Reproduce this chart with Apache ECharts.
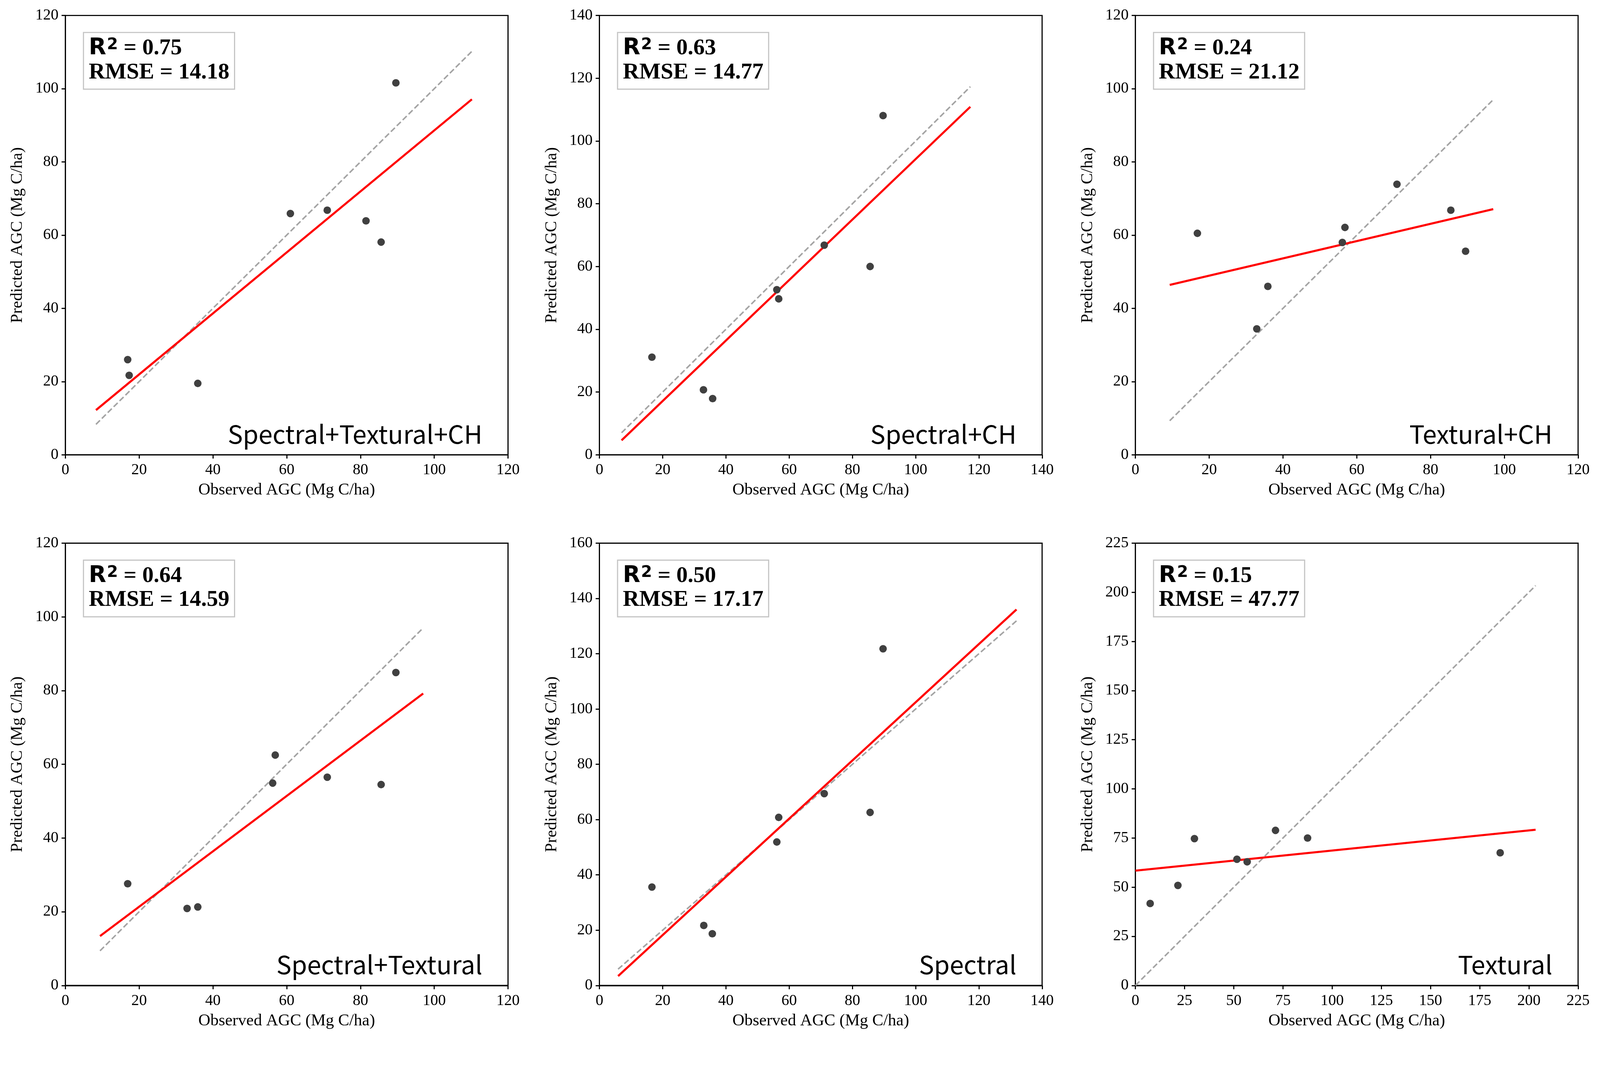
<!DOCTYPE html>
<html>
<head>
<meta charset="utf-8">
<script src="https://cdn.jsdelivr.net/npm/echarts@6/dist/echarts.min.js"></script>
<style>
html,body{margin:0;padding:0;background:#ffffff;overflow:hidden;}
#chart{width:100vw;height:100vh;}
</style>
</head>
<body>
<div id="chart"></div>
<script>
// ---------------- data ----------------
const panelNames = ['Spectral+Textural+CH', 'Spectral+CH', 'Textural+CH', 'Spectral+Textural', 'Spectral', 'Textural'];
const r2Values = ['0.75', '0.63', '0.24', '0.64', '0.50', '0.15'];
const rmseValues = ['14.18', '14.77', '21.12', '14.59', '17.17', '47.77'];
const xMax = [120, 140, 120, 120, 140, 225];
const yMax = [120, 140, 120, 120, 160, 225];
const tickStep = [20, 20, 20, 20, 20, 25];

const obsSTC  = [16.9, 17.3, 35.9, 61.0, 71.0, 81.5, 85.6, 89.6];
const predSTC = [26.0, 21.7, 19.5, 65.9, 66.8, 63.9, 58.1, 101.6];
const obsSC   = [16.6, 32.9, 35.8, 56.1, 56.7, 71.1, 85.6, 89.7];
const predSC  = [31.1, 20.7, 17.9, 52.6, 49.7, 66.8, 60.0, 108.1];
const obsTC   = [16.8, 32.9, 35.9, 56.1, 56.8, 70.9, 85.5, 89.5];
const predTC  = [60.5, 34.4, 46.0, 58.0, 62.1, 73.9, 66.8, 55.6];
const obsST   = [16.9, 33.0, 35.9, 56.2, 56.9, 71.0, 85.6, 89.6];
const predST  = [27.6, 20.9, 21.3, 54.9, 62.5, 56.5, 54.5, 84.9];
const obsS    = [16.6, 33.0, 35.7, 56.1, 56.7, 71.1, 85.6, 89.7];
const predS   = [35.6, 21.7, 18.7, 51.9, 60.8, 69.4, 62.6, 121.8];
const obsT    = [7.5, 21.6, 30.0, 51.6, 56.8, 71.2, 87.5, 185.4];
const predT   = [41.7, 50.9, 74.7, 64.2, 62.9, 78.9, 75.0, 67.5];

// x extent of the fitted line and of the 1:1 line, and fitted line end values
const lineRangeSTC = [8.3, 110.2]; const fitSTC = [12.2, 97.1];
const lineRangeSC  = [7.0, 117.3]; const fitSC  = [4.6, 110.9];
const lineRangeTC  = [9.3, 97.0];  const fitTC  = [46.4, 67.1];
const lineRangeST  = [9.4, 97.0];  const fitST  = [13.4, 79.2];
const lineRangeS   = [5.9, 131.9]; const fitS   = [3.4, 136.0];
const lineRangeT   = [0.0, 203.4]; const fitT   = [58.4, 79.2];

const obsList = [obsSTC, obsSC, obsTC, obsST, obsS, obsT];
const predList = [predSTC, predSC, predTC, predST, predS, predT];
const rangeList = [lineRangeSTC, lineRangeSC, lineRangeTC, lineRangeST, lineRangeS, lineRangeT];
const fitList = [fitSTC, fitSC, fitTC, fitST, fitS, fitT];

// ---------------- layout (designed for 4236 x 2752, scaled to the viewport) ----------------
const el = document.getElementById('chart');
const S = Math.min(el.clientWidth / 4236, el.clientHeight / 2752);
const p = v => v * S;

const colLeft = [173, 1587, 3006];
const plotW = 1172;
const rowTop = [41, 1438];
const rowH = [1163, 1171];
const serif = 'Liberation Serif';

const grids = [], xAxes = [], yAxes = [], series = [], graphics = [];

for (let i = 0; i < 6; i++) {
  const col = i % 3, row = Math.floor(i / 3);
  const left = colLeft[col], top = rowTop[row], h = rowH[row];
  grids.push({left: p(left), top: p(top), width: p(plotW), height: p(h), show: true,
    borderColor: '#000', borderWidth: p(3), backgroundColor: 'transparent'});
  const axisCommon = {
    type: 'value', gridIndex: i, min: 0, nameLocation: 'middle',
    nameTextStyle: {fontFamily: serif, fontSize: p(44), color: '#000'},
    axisLine: {show: true, onZero: false, lineStyle: {color: '#000', width: p(3)}},
    axisTick: {show: true, inside: false, length: p(10), lineStyle: {color: '#000', width: p(3)}},
    axisLabel: {fontFamily: serif, fontSize: p(41), color: '#000'},
    splitLine: {show: false}
  };
  xAxes.push(Object.assign({}, axisCommon, {
    max: xMax[i], interval: tickStep[i], name: 'Observed AGC (Mg C/ha)', nameGap: p(72),
    axisLabel: Object.assign({}, axisCommon.axisLabel, {margin: p(20)})
  }));
  yAxes.push(Object.assign({}, axisCommon, {
    max: yMax[i], interval: tickStep[i], name: 'Predicted AGC (Mg C/ha)', nameGap: p(104), nameRotate: 90,
    axisLabel: Object.assign({}, axisCommon.axisLabel, {margin: p(18)})
  }));

  const r = rangeList[i], f = fitList[i];
  series.push({
    type: 'line', xAxisIndex: i, yAxisIndex: i, showSymbol: false, silent: true, z: 2,
    data: [[r[0], r[0]], [r[1], r[1]]],
    lineStyle: {color: '#a4a4a4', width: p(4), type: [p(15), p(7)]}
  });
  series.push({
    type: 'line', xAxisIndex: i, yAxisIndex: i, showSymbol: false, silent: true, z: 3,
    data: [[r[0], f[0]], [r[1], f[1]]],
    lineStyle: {color: '#ff0000', width: p(5.5)}
  });
  series.push({
    type: 'scatter', xAxisIndex: i, yAxisIndex: i, symbolSize: p(20), z: 4,
    itemStyle: {color: '#404040', opacity: 1},
    data: obsList[i].map((v, k) => [v, predList[i][k]])
  });

  // annotation box
  graphics.push({
    type: 'rect', z: 10,
    shape: {x: p(left + 48), y: p(top + 45), width: p(400), height: p(150)},
    style: {fill: '#ffffff', stroke: '#c4c4c4', lineWidth: p(3)}
  });
  graphics.push({
    type: 'text', z: 11, x: p(left + 62), y: p(top + 87),
    style: {
      text: '{r|R}{s|2}{t| = ' + r2Values[i] + '}',
      align: 'left', verticalAlign: 'middle', fill: '#000',
      rich: {
        r: {fontFamily: 'DejaVu Sans', fontWeight: 'bold', fontSize: p(60), fill: '#000', verticalAlign: 'middle'},
        s: {fontFamily: 'DejaVu Sans', fontWeight: 'bold', fontSize: p(42), fill: '#000', verticalAlign: 'top', padding: [0, 0, p(6), p(2)]},
        t: {fontFamily: serif, fontWeight: 'bold', fontSize: p(60), fill: '#000', verticalAlign: 'middle'}
      }
    }
  });
  graphics.push({
    type: 'text', z: 11, x: p(left + 62), y: p(top + 151),
    style: {
      text: 'RMSE = ' + rmseValues[i],
      fontFamily: serif, fontWeight: 'bold', fontSize: p(60), fill: '#000',
      align: 'left', verticalAlign: 'middle'
    }
  });
  // panel label
  graphics.push({
    type: 'text', z: 11, x: p(left + plotW - 68), y: p(top + h - 55),
    style: {
      text: panelNames[i],
      fontFamily: 'Noto Sans CJK SC', fontSize: p(67), fill: '#000',
      align: 'right', verticalAlign: 'middle'
    }
  });
}

const chart = echarts.init(el, null, {renderer: 'canvas'});
chart.setOption({
  animation: false,
  backgroundColor: '#ffffff',
  grid: grids,
  xAxis: xAxes,
  yAxis: yAxes,
  series: series,
  graphic: graphics
});
</script>
</body>
</html>
